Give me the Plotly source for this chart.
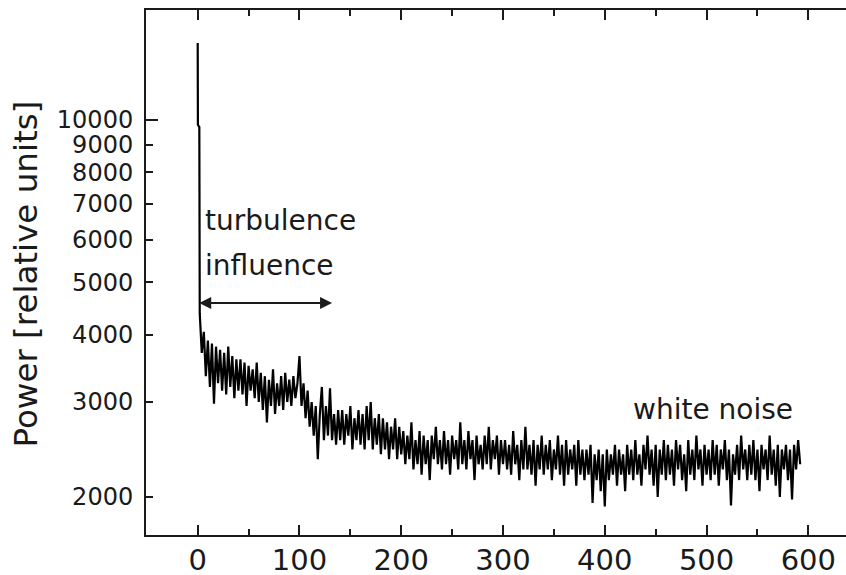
import numpy as np
import plotly.graph_objects as go

# initial spike near t = 0
time_start = [0, 0.2, 1.6]
power_start = [13900, 9800, 9700]

# noisy tail, sampled every 2 units from t = 2
power_tail = [
    4380, 3700, 4050, 3350, 3900, 3200, 3850, 2980, 3800, 3250,
    3750, 3150, 3700, 3100, 3800, 3200, 3650, 3050, 3600, 3150,
    3600, 3100, 3550, 2950, 3500, 3150, 3450, 3050, 3550, 3000,
    3400, 2900, 3350, 2750, 3300, 2950, 3450, 2850, 3250, 2950,
    3350, 2900, 3400, 3000, 3300, 2950, 3350, 3050, 3250, 3650,
    2950, 3250, 2800, 3150, 2700, 3000, 2600, 2950, 2350, 2850,
    3200, 2550, 2950, 2600, 3180, 2550, 2850, 2500, 2900, 2550,
    2900, 2500, 2850, 2600, 2950, 2450, 2800, 2550, 2900, 2500,
    2850, 2450, 2950, 2550, 3000, 2450, 2800, 2500, 2850, 2400,
    2800, 2450, 2750, 2350, 2700, 2450, 2800, 2350, 2700, 2400,
    2650, 2300, 2600, 2350, 2750, 2250, 2550, 2300, 2650, 2200,
    2600, 2300, 2550, 2150, 2600, 2350, 2700, 2300, 2550, 2250,
    2650, 2300, 2550, 2200, 2600, 2350, 2550, 2250, 2750, 2300,
    2550, 2250, 2650, 2350, 2550, 2150, 2600, 2300, 2500, 2250,
    2600, 2300, 2700, 2250, 2550, 2350, 2600, 2200, 2550, 2300,
    2550, 2250, 2500, 2200, 2650, 2300, 2500, 2150, 2550, 2250,
    2700, 2250, 2500, 2200, 2550, 2100, 2500, 2250, 2600, 2200,
    2500, 2250, 2550, 2150, 2450, 2250, 2600, 2200, 2500, 2100,
    2550, 2200, 2450, 2250, 2500, 2100, 2550, 2200, 2450, 2150,
    2450, 2200, 2500, 1950, 2400, 2150, 2450, 2050, 2400, 1920,
    2450, 2150, 2400, 2200, 2500, 2100, 2450, 2200, 2400, 2050,
    2500, 2200, 2450, 2150, 2550, 2200, 2400, 2100, 2500, 2250,
    2600, 2200, 2450, 2100, 2500, 2000, 2450, 2200, 2550, 2150,
    2500, 2200, 2450, 2100, 2550, 2250, 2500, 2150, 2400, 2050,
    2550, 2200, 2450, 2150, 2600, 2250, 2450, 2100, 2500, 2200,
    2450, 2150, 2550, 2200, 2500, 2100, 2450, 2250, 2550, 2150,
    2450, 1930, 2400, 2200, 2500, 2150, 2600, 2250, 2450, 2150,
    2500, 2200, 2550, 2150, 2450, 2050, 2500, 2250, 2450, 2150,
    2600, 2200, 2450, 2100, 2500, 2000, 2450, 2250, 2500, 2150,
    2450, 1980, 2500, 2250, 2550, 2300,
]
time_tail = 2 + 2 * np.arange(len(power_tail))

time = np.concatenate([time_start, time_tail])
power = np.concatenate([power_start, power_tail])

y_ticks = [2000, 3000, 4000, 5000, 6000, 7000, 8000, 9000, 10000]
x_ticks = [0, 100, 200, 300, 400, 500, 600]

# the frame runs past the right edge of the window, as in the original
W, H = 870, 575
x_range = [-50.8, 660.6]
y_range = [3.2306, 4.204]  # log10
plot_w = W - 146

FONT = "DejaVu Sans"
INK = "#1a1a1a"

fig = go.Figure()
fig.add_trace(go.Scatter(x=time, y=power, mode="lines",
                         line=dict(color="black", width=2.2),
                         showlegend=False, hoverinfo="skip"))

fig.update_layout(
    width=W, height=H,
    margin=dict(l=146, r=0, t=10, b=40, autoexpand=False),
    paper_bgcolor="white", plot_bgcolor="white",
    font=dict(family=FONT, color=INK),
)

fig.update_xaxes(
    range=x_range, tickvals=x_ticks, ticks="inside", ticklen=10,
    tickwidth=2, tickcolor=INK, showline=True, linewidth=2, linecolor=INK,
    mirror="ticks", showgrid=False, zeroline=False, automargin=False,
    tickfont=dict(family=FONT, size=29, color=INK), ticklabelstandoff=-2,
    minor=dict(tickvals=[50, 150, 250, 350, 450, 550], ticks="inside",
               ticklen=6, tickwidth=2, tickcolor=INK),
)
fig.update_yaxes(
    type="log", range=y_range, tickvals=y_ticks,
    ticktext=[str(v) for v in y_ticks], ticks="inside", ticklen=7,
    tickwidth=2, tickcolor=INK, showline=True, linewidth=2, linecolor=INK,
    mirror=False, showgrid=False, zeroline=False, automargin=False,
    tickfont=dict(family=FONT, size=24, color=INK), ticklabelstandoff=6,
)

# longer tick at 10000
y10k = (np.log10(10000) - y_range[0]) / (y_range[1] - y_range[0])
fig.add_shape(type="line", xref="paper", yref="paper",
              x0=0, x1=12 / plot_w, y0=y10k, y1=y10k,
              line=dict(color=INK, width=2))

# y axis title
fig.add_annotation(text="Power [relative units]", xref="paper", yref="paper",
                   x=(25 - 146) / plot_w, y=(535 - 274.5) / 525, textangle=-90,
                   xanchor="center", yanchor="middle",
                   showarrow=False, font=dict(family=FONT, size=32.5, color=INK))

# labels inside the plot
labels = [("turbulence", 5.5, 6500), ("influence", 5.5, 5370),
          ("white noise", 426.0, 2900)]
for txt, lx, ly in labels:
    fig.add_annotation(text=txt, x=lx, y=np.log10(ly), xanchor="left",
                       yanchor="middle", showarrow=False,
                       font=dict(family=FONT, size=28, color=INK))

# double-headed arrow: extent of turbulence influence
arrow_y = np.log10(4580)
fig.add_annotation(x=132, y=arrow_y, ax=0, ay=arrow_y, axref="x", ayref="y",
                   text="", showarrow=True, arrowside="end+start",
                   arrowhead=2, arrowsize=1.2, arrowwidth=2, arrowcolor=INK)

fig.write_html("out.html", config={"displayModeBar": False},
               post_script="document.body.style.margin='0';"
                           "document.body.style.overflow='hidden';"
                           "document.documentElement.style.overflow='hidden';")
